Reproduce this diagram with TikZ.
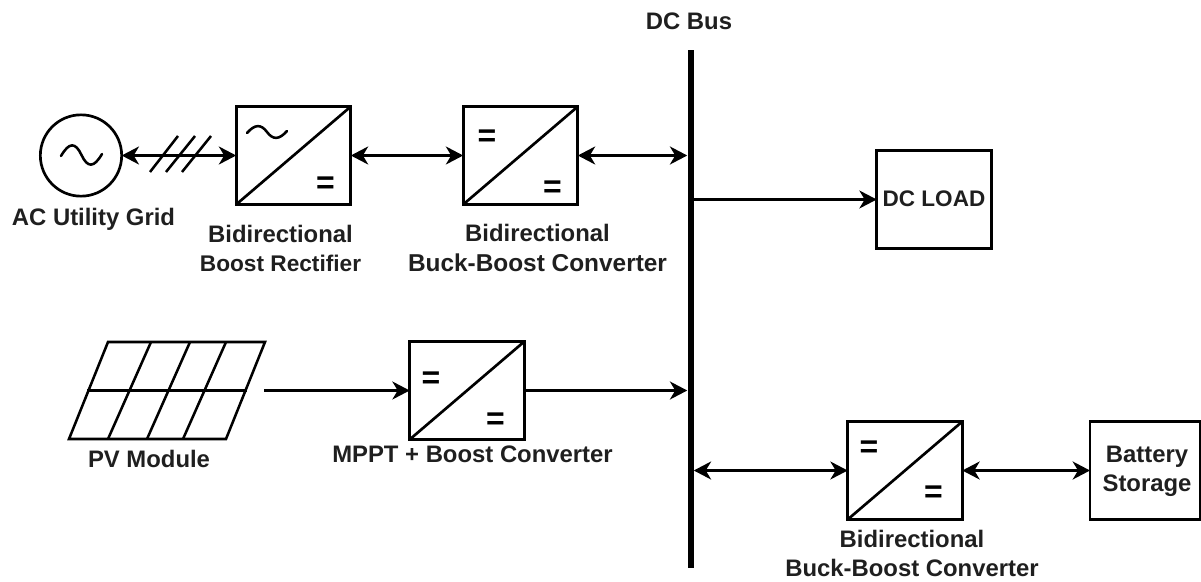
\documentclass[tikz,border=0pt]{standalone}
\usepackage{fontspec}
\setmainfont{Liberation Sans}[BoldFont={Liberation Sans Bold}]
\usetikzlibrary{arrows.meta,calc}
\newcommand{\lbl}{\fontsize{17.9pt}{21.8pt}\selectfont\bfseries}
\tikzset{
  x=0.75pt,y=-0.75pt,
  ln/.style={line width=2pt,black},
  thin ln/.style={line width=1.9pt,black},
  conv/.style={draw,line width=2.1pt,rectangle,inner sep=0pt,outer sep=0pt,minimum width=86pt,minimum height=73.5pt},
  plainbox/.style={draw,line width=2.1pt,rectangle,inner sep=0pt,outer sep=0pt,align=center},
  lab/.style={font=\lbl,align=center,inner sep=0pt,text=black!88},
  eq/.style={font=\fontsize{24pt}{24pt}\selectfont\bfseries,inner sep=0pt},
  biarrow/.style={line width=1.9pt,{Stealth[length=13pt,width=13.5pt,inset=4pt]}-{Stealth[length=13pt,width=13.5pt,inset=4pt]}},
  onearrow/.style={line width=1.9pt,-{Stealth[length=13pt,width=13.5pt,inset=4pt]}},
}
\newcommand{\tildewave}[4]{% x,y,half-width,amp
  \draw[line width=1.9pt,line cap=round] (#1-#3,#2+1) .. controls (#1-#3*0.6,#2-#4) and (#1-#3*0.3,#2-#4) .. (#1,#2) .. controls (#1+#3*0.3,#2+#4) and (#1+#3*0.6,#2+#4) .. (#1+#3,#2-1);}
\begin{document}
\begin{tikzpicture}
\useasboundingbox (0,0) rectangle (1201,581);
% bus
\node[fill=black,inner sep=0pt,minimum width=4.5pt,minimum height=388.5pt] (bus) at (690.5,309) {};
\node[lab] (buslab) at (689,21) {DC Bus};
% AC grid
\node[draw,circle,line width=2pt,minimum size=61pt,inner sep=0pt,outer sep=0pt] (grid) at (81,155.5) {};
\tildewave{81.5}{155}{20.5}{13}
\node[lab] (gridlab) at (93.5,219) {AC Utility Grid};
% rectifier
\node[conv] (r1) at (293.5,155.5) {};
\draw[ln] (r1.south west) -- (r1.north east);
\tildewave{267}{132}{20}{8}
\node[eq] (r1b) at (325.5,185) {=};
\node[lab] (r1lab) at (280.5,248) {Bidirectional\\{\fontsize{17pt}{21.8pt}\selectfont Boost Rectifier}};
% buck-boost 1
\node[conv] (r2) at (520.5,155.5) {};
\draw[ln] (r2.south west) -- (r2.north east);
\node[eq] (r2a) at (487,138) {=};
\node[eq] (r2b) at (552.5,189) {=};
\node[lab] (r2lab) at (537.5,248) {Bidirectional\\{\fontsize{18.3pt}{21.8pt}\selectfont Buck-Boost Converter}};
% DC load
\node[plainbox,minimum width=86pt,minimum height=73.5pt] (load) at (934,199.5) {};
\node[lab,font=\fontsize{16.9pt}{21pt}\selectfont\bfseries] (loadlab) at (934,199) {DC LOAD};
% PV
\coordinate (pvtl) at (108,342);
\coordinate (pvtr) at (265,342);
\coordinate (pvbr) at (226,439);
\coordinate (pvbl) at (69,439);
\draw[thin ln,line join=miter] (pvtl) -- (pvtr) -- (pvbr) -- (pvbl) -- cycle;
\draw[thin ln] (87,390.5) -- (247,390.5);
\draw[thin ln] (151,342) -- (108,439);
\draw[thin ln] (190,342) -- (147,439);
\draw[thin ln] (226,342) -- (183,439);
\coordinate (pvout) at (264,390.5);
\node[lab] (pvlab) at (149,459) {PV Module};
% MPPT
\node[conv] (r3) at (467,390.5) {};
\draw[ln] (r3.south west) -- (r3.north east);
\node[eq] (r3a) at (431,380.5) {=};
\node[eq] (r3b) at (495.5,421) {=};
\node[lab] (r3lab) at (472.5,454) {MPPT + Boost Converter};
% buck-boost 2
\node[conv] (r4) at (905,470.5) {};
\draw[ln] (r4.south west) -- (r4.north east);
\node[eq] (r4a) at (869,449.5) {=};
\node[eq] (r4b) at (933.5,494) {=};
\node[lab] (r4lab) at (912,553) {Bidirectional\\Buck-Boost Converter};
% battery
\node[plainbox,minimum width=82.5pt,minimum height=73.5pt] (bat) at (1145,470.5) {};
\node[lab] (batlab) at (1147,471) {Battery\\Storage};
% connectors
\draw[biarrow] (grid.east) -- (r1.west);
\draw[thin ln] (150,172) -- (178,136);
\draw[thin ln] (166,172) -- (195,136);
\draw[thin ln] (182,172) -- (211,136);
\draw[biarrow] (r1.east) -- (r2.west);
\draw[biarrow] (r2.east) -- (r2.east -| bus.west);
\draw[onearrow] (load.west -| bus.east) -- (load.west);
\draw[onearrow] (pvout) -- (r3.west);
\draw[onearrow] (r3.east) -- (r3.east -| bus.west);
\draw[biarrow] (r4.west -| bus.east) -- (r4.west);
\draw[biarrow] (r4.east) -- (bat.west);
\end{tikzpicture}
\end{document}
